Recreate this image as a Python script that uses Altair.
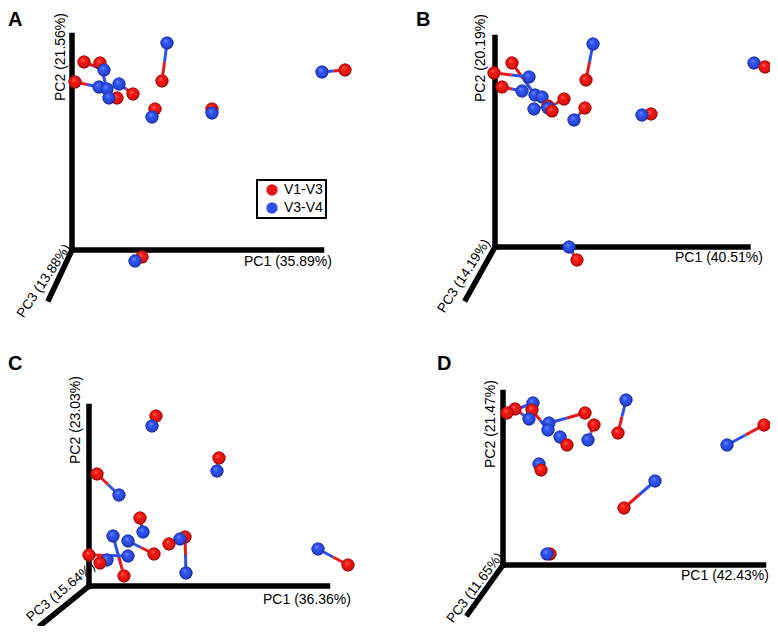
import altair as alt
import pandas as pd

# ---------------------------------------------------------------
# Sample positions (page pixels, x right, y down)
# each index i is one sample: V1-V3 (red) and V3-V4 (blue) profiles
# ---------------------------------------------------------------
panel_names = ["A", "B", "C", "D"]
series_names = ["V1-V3", "V3-V4"]

A_v13_x = [84, 100, 75, 162, 133, 117, 155, 212, 345, 142]
A_v13_y = [62, 63, 82, 81, 94, 98, 109, 109, 70, 257]
A_v34_x = [104, 107, 99, 167, 119, 109, 152, 212, 322, 135]
A_v34_y = [70, 89, 87, 43, 84, 98, 117, 113, 72, 261]

B_v13_x = [512, 494, 502, 586, 564, 552, 585, 651, 765, 577, 548]
B_v13_y = [63, 73, 87, 80, 99, 111, 108, 114, 67, 260, 106]
B_v34_x = [535, 529, 522, 593, 548, 542, 574, 642, 754, 569, 534]
B_v34_y = [95, 77, 91, 44, 108, 97, 120, 115, 63, 247, 109]

C_v13_x = [156, 219, 97, 140, 185, 169, 154, 124, 89, 100, 348]
C_v13_y = [416, 458, 474, 518, 537, 544, 554, 576, 555, 563, 565]
C_v34_x = [152, 217, 119, 143, 186, 180, 128, 113, 128, 107, 318]
C_v34_y = [426, 471, 495, 532, 573, 539, 541, 536, 556, 560, 549]

D_v13_x = [507, 515, 585, 532, 594, 618, 567, 541, 624, 764, 550]
D_v13_y = [413, 409, 413, 410, 425, 433, 445, 470, 508, 425, 554]
D_v34_x = [533, 529, 549, 548, 588, 626, 560, 539, 655, 727, 547]
D_v34_y = [403, 419, 423, 430, 440, 400, 437, 464, 481, 445, 554]

# 3-D axis frame of each panel (origin and the end of PC1, PC2, PC3)
origin_x = [72, 495, 89, 503]
origin_y = [250, 247, 586, 565]
pc1_end_x = [321.5, 748, 327.5, 763.5]
pc2_end_y = [35.5, 37.5, 406.5, 392.5]
pc3_end_x = [49, 466, 41, 468]
pc3_end_y = [299, 299, 625, 614]

# axis titles
pc1_titles = ["PC1 (35.89%)", "PC1 (40.51%)", "PC1 (36.36%)", "PC1 (42.43%)"]
pc2_titles = ["PC2 (21.56%)", "PC2 (20.19%)", "PC2 (23.03%)", "PC2 (21.47%)"]
pc3_titles = ["PC3 (13.88%)", "PC3 (14.19%)", "PC3 (15.64%)", "PC3 (11.65%)"]
pc1_title_x = [288, 719, 307, 725]
pc1_title_y = [262, 258, 600, 576]
pc2_title_x = [61, 481, 76, 491]
pc2_title_y = [57, 58, 420, 424]
pc3_title_x = [44, 464, 61, 475]
pc3_title_y = [281, 276, 592, 588]
pc3_title_angle = [304, 303, 320, 307]

letter_x = [8, 416, 8, 437]
letter_y = [26, 26, 370, 370]

# ---------------------------------------------------------------
RED = "#e8181a"
BLUE = "#2d50e6"
RED_GRAD = {
    "gradient": "radial", "x1": 0.38, "y1": 0.32, "r1": 0.0,
    "x2": 0.5, "y2": 0.5, "r2": 0.52,
    "stops": [
        {"offset": 0.0, "color": "#ff6b5c"},
        {"offset": 0.35, "color": "#f41a12"},
        {"offset": 0.82, "color": "#d8120e"},
        {"offset": 1.0, "color": "#500604"},
    ],
}
BLUE_GRAD = {
    "gradient": "radial", "x1": 0.38, "y1": 0.32, "r1": 0.0,
    "x2": 0.5, "y2": 0.5, "r2": 0.52,
    "stops": [
        {"offset": 0.0, "color": "#7590ff"},
        {"offset": 0.35, "color": "#3055f0"},
        {"offset": 0.82, "color": "#2743d4"},
        {"offset": 1.0, "color": "#0e165e"},
    ],
}
FONT = "Liberation Sans"

panel_data = {
    "A": (A_v13_x, A_v13_y, A_v34_x, A_v34_y),
    "B": (B_v13_x, B_v13_y, B_v34_x, B_v34_y),
    "C": (C_v13_x, C_v13_y, C_v34_x, C_v34_y),
    "D": (D_v13_x, D_v13_y, D_v34_x, D_v34_y),
}

pair_rows, point_rows = [], []
for p, (rx, ry, bx, by) in panel_data.items():
    for i in range(len(rx)):
        pair_rows.append({"panel": p, "rx": rx[i], "ry": ry[i], "bx": bx[i], "by": by[i]})
        point_rows.append({"panel": p, "x": rx[i], "y": ry[i], "series": series_names[0]})
        point_rows.append({"panel": p, "x": bx[i], "y": by[i], "series": series_names[1]})
pairs = pd.DataFrame(pair_rows)
points = pd.DataFrame(point_rows).sort_values("y", kind="stable").reset_index(drop=True)

axis_rows = []
for i, p in enumerate(panel_names):
    ox, oy = origin_x[i], origin_y[i]
    axis_rows.append({"panel": p, "x": ox, "y": oy, "x2": pc1_end_x[i], "y2": oy})
    axis_rows.append({"panel": p, "x": ox, "y": oy, "x2": ox, "y2": pc2_end_y[i]})
    axis_rows.append({"panel": p, "x": ox, "y": oy, "x2": pc3_end_x[i], "y2": pc3_end_y[i]})
axes_df = pd.DataFrame(axis_rows)

label_rows = []
for i, p in enumerate(panel_names):
    label_rows.append({"panel": p, "text": pc1_titles[i], "x": pc1_title_x[i], "y": pc1_title_y[i], "angle": 0, "fs": 14})
    label_rows.append({"panel": p, "text": pc2_titles[i], "x": pc2_title_x[i], "y": pc2_title_y[i], "angle": 270, "fs": 14})
    label_rows.append({"panel": p, "text": pc3_titles[i], "x": pc3_title_x[i], "y": pc3_title_y[i], "angle": pc3_title_angle[i], "fs": 13.5})
labels_df = pd.DataFrame(label_rows)

letters_df = pd.DataFrame({"text": panel_names, "x": letter_x, "y": letter_y})

xs = alt.Scale(domain=[8, 770], nice=False, zero=False)
ys = alt.Scale(domain=[8, 626], nice=False, zero=False, reverse=True)


def X(f):
    return alt.X(f, scale=xs, axis=None)


def Y(f):
    return alt.Y(f, scale=ys, axis=None)


axes_layer = alt.Chart(axes_df).mark_rule(
    color="black", strokeWidth=5.5, strokeCap="square"
).encode(x=X("x:Q"), y=Y("y:Q"), x2="x2:Q", y2="y2:Q")

mid = dict(mx="(datum.rx + datum.bx) / 2", my="(datum.ry + datum.by) / 2")

red_seg = alt.Chart(pairs).transform_calculate(**mid).mark_rule(
    color=RED, strokeWidth=3
).encode(x=X("rx:Q"), y=Y("ry:Q"), x2="mx:Q", y2="my:Q")

blue_seg = alt.Chart(pairs).transform_calculate(**mid).mark_rule(
    color=BLUE, strokeWidth=3
).encode(x=X("mx:Q"), y=Y("my:Q"), x2="bx:Q", y2="by:Q")

legend_pts = alt.Chart(points).mark_circle(size=168, opacity=1).encode(
    x=X("x:Q"),
    y=Y("y:Q"),
    color=alt.Color(
        "series:N",
        scale=alt.Scale(domain=series_names, range=[RED, BLUE]),
        legend=alt.Legend(
            orient="none", legendX=249, legendY=172, title=None,
            strokeColor="black", fillColor="white", padding=3,
            symbolType="circle", symbolSize=130, symbolStrokeWidth=0,
            symbolOffset=5, labelOffset=5, rowPadding=4,
            labelFont=FONT, labelFontSize=14, labelColor="black",
        ),
    ),
)

sphere_pts = alt.Chart(points).mark_circle(size=168, opacity=1, strokeWidth=0).encode(
    x=X("x:Q"),
    y=Y("y:Q"),
    fill=alt.condition(alt.datum.series == series_names[0], alt.value(RED_GRAD), alt.value(BLUE_GRAD)),
)

labels_layer = alt.Chart(labels_df).mark_text(
    font=FONT, color="black", align="center", baseline="middle"
).encode(
    x=X("x:Q"), y=Y("y:Q"), text="text:N",
    angle=alt.Angle("angle:Q", scale=None),
    size=alt.Size("fs:Q", scale=None),
)

letters_layer = alt.Chart(letters_df).mark_text(
    font=FONT, fontSize=20, fontWeight="bold", color="black", align="left", baseline="alphabetic"
).encode(x=X("x:Q"), y=Y("y:Q"), text="text:N")

chart = alt.layer(
    axes_layer, red_seg, blue_seg, legend_pts, sphere_pts, labels_layer, letters_layer
).properties(
    width=762, height=618, padding=0, autosize=alt.AutoSizeParams(type="none"),
).configure_view(strokeWidth=0).configure_legend(strokeWidth=2)

chart.save("out.html", embed_options={"renderer": "svg", "actions": False})
